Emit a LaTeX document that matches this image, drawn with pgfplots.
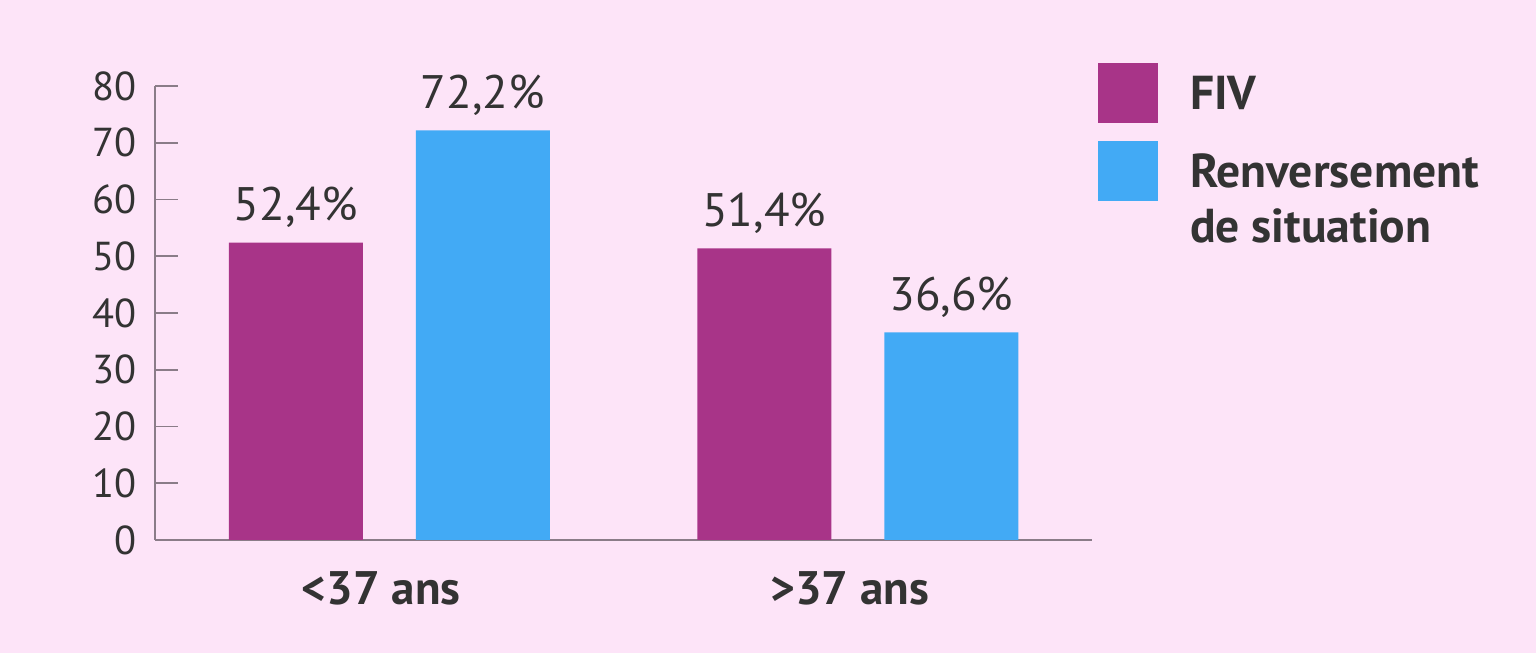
\documentclass[border=0pt]{standalone}
\usepackage{fontspec}
\setmainfont{PT Sans}
\usepackage{pgfplots}
\pgfplotsset{compat=1.18}
\definecolor{bgc}{HTML}{FDE4F8}
\definecolor{fivc}{HTML}{A83488}
\definecolor{renc}{HTML}{42AAF5}
\definecolor{txtc}{HTML}{333333}
\definecolor{axc}{HTML}{8A7C88}

\begin{document}
\begin{tikzpicture}
\fill[bgc] (0,0) rectangle (768pt,326.5pt);
\begin{axis}[
  at={(77.5pt,56.5pt)}, anchor=south west,
  width=468.5pt, height=227pt, scale only axis,
  xmin=-0.5, xmax=1.5, ymin=0, ymax=80,
  axis x line*=bottom, axis y line*=left,
  axis line style={draw=axc, line width=0.8pt, -},
  ytick={0,10,...,80},
  tick align=inside, major tick length=11.5pt,
  ytick style={draw=axc, line width=0.8pt},
  xtick={0,1}, xticklabels={<37 ans,>37 ans},
  xtick style={draw=none},
  extra x ticks={0.5,1.5}, extra x tick labels={},
  extra x tick style={tick style={draw=axc, line width=0.8pt}, major tick length=5pt},
  /pgf/number format/assume math mode=true,
  yticklabel style={font=\fontsize{20.2}{24}\selectfont, text=txtc, inner sep=0pt, anchor=east, xshift=-9pt},
  xticklabel style={font=\bfseries\fontsize{23.5}{28}\selectfont, text=txtc, inner sep=0pt, anchor=base, yshift=-32.5pt, xshift=-4pt},
  legend cell align=left,
  legend style={at={(1.0064,1.0507)}, anchor=north west, draw=none, fill=none,
    inner sep=0pt, outer sep=0pt, row sep=9pt,
    cells={anchor=base west},
    nodes={inner sep=0pt, outer sep=0pt, font=\bfseries\fontsize{23.8}{27.5}\selectfont, text=txtc},
    /tikz/every odd column/.style={column sep=16pt}},
  every node near coord/.append style={anchor=base, yshift=11pt, inner sep=0pt,
    font=\fontsize{23.5}{28}\selectfont, text=txtc},
  clip=false,
]
\addplot[ybar, bar width=67pt, bar shift=-46.75pt, fill=fivc, draw=none,
  nodes near coords, point meta=explicit symbolic,
  every node near coord/.append style={xshift=-46.75pt},
  legend image code/.code={\fill[fivc] (0pt,-6.5pt) rectangle (30pt,23.5pt);}]
  coordinates {(0,52.4) [52,4\%] (1,51.4) [51,4\%]};
\addlegendentry{FIV}
\addplot[ybar, bar width=67pt, bar shift=46.75pt, fill=renc, draw=none,
  nodes near coords, point meta=explicit symbolic,
  every node near coord/.append style={xshift=46.75pt},
  legend image code/.code={\fill[renc] (0pt,-6.5pt) rectangle (30pt,23.5pt);}]
  coordinates {(0,72.2) [72,2\%] (1,36.6) [36,6\%]};
\addlegendentry{\begin{tabular}[t]{@{}l@{}}Renversement\\de situation\end{tabular}}
\end{axis}
\pgfresetboundingbox
\useasboundingbox (0,0) rectangle (768pt,326.5pt);
\end{tikzpicture}
\end{document}
